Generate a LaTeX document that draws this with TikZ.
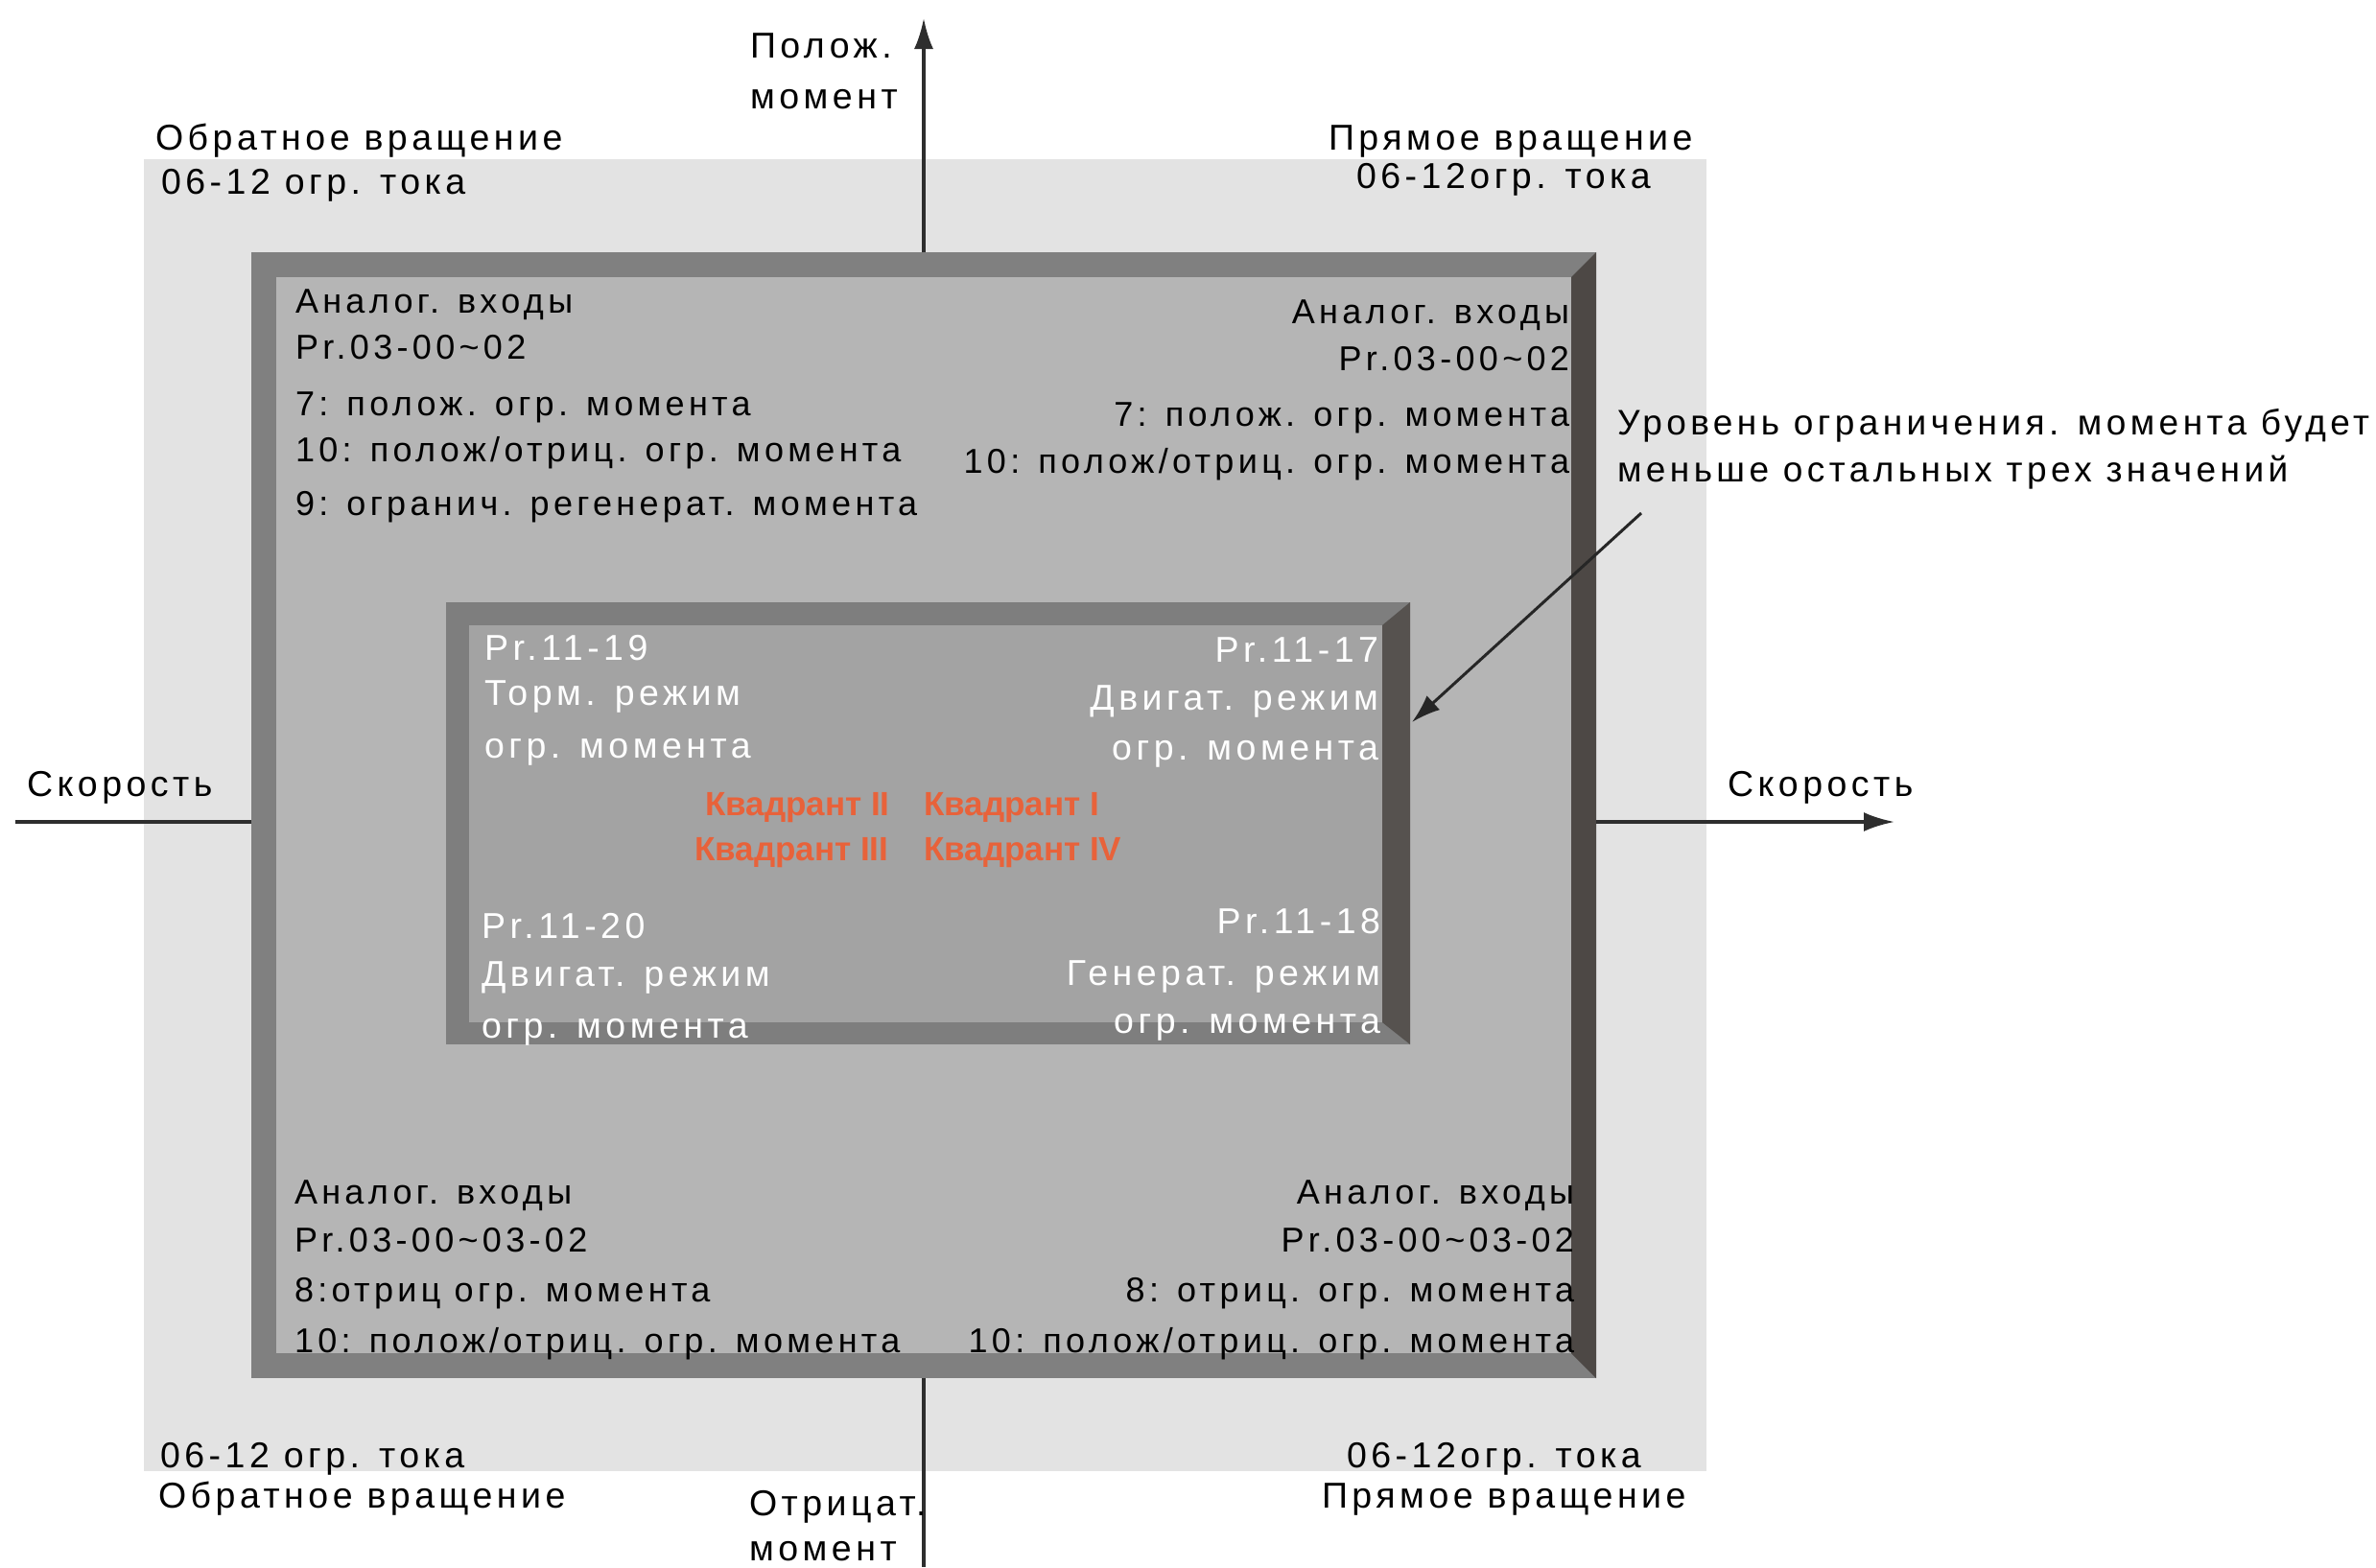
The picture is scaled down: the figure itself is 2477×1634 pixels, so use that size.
\documentclass[tikz,border=0pt]{standalone}
\usepackage{fontspec}
\setmainfont{Liberation Sans}[LetterSpace=12]
\newfontfamily\quadfont{Liberation Sans}[LetterSpace=0]
\usetikzlibrary{arrows.meta}
\definecolor{bglight}{HTML}{E3E3E3}
\definecolor{bandgray}{HTML}{808080}
\definecolor{banddark}{HTML}{4D4845}
\definecolor{framefill}{HTML}{B5B5B5}
\definecolor{boxband}{HTML}{7E7E7E}
\definecolor{boxdark}{HTML}{56524F}
\definecolor{boxfill}{HTML}{A3A3A3}
\definecolor{axisgray}{HTML}{2E2E2E}
\definecolor{quadred}{HTML}{E8623A}
\newcommand{\mainsize}{\fontsize{36}{43}\selectfont}
\newcommand{\bigsize}{\fontsize{37.5}{44}\selectfont}
\newcommand{\notesize}{\fontsize{37}{44}\selectfont}
\tikzset{
  lbl/.style={anchor=base west, inner sep=0pt, outer sep=0pt, font=\mainsize, text=black},
  lblr/.style={anchor=base east, inner sep=0pt, outer sep=0pt, font=\mainsize, text=black},
  olbl/.style={lbl, font=\bigsize},
  wlbl/.style={lbl, font=\bigsize, text=white},
  wlblr/.style={lblr, font=\bigsize, text=white},
  nlbl/.style={lbl, font=\notesize},
  quad/.style={anchor=base west, inner sep=0pt, font=\quadfont\bfseries\fontsize{35}{40}\selectfont, text=quadred},
  axisline/.style={draw=axisgray, line width=3.5pt},
  axisarrow/.style={axisline, -{Latex[length=32pt,width=20pt]}},
  notearrow/.style={draw=black!85, line width=3pt, -{Latex[length=30pt,width=20pt]}}
}
\begin{document}
\begin{tikzpicture}[x=1pt,y=-1pt]
\useasboundingbox (0,0) rectangle (2477,1634);
% light background
\fill[bglight] (150,166) rectangle (1779,1534);
% outer frame
\fill[bandgray] (262,263) rectangle (1664,1437);
\fill[framefill] (288,289) rectangle (1638,1411);
\fill[banddark] (1638,289) -- (1664,263) -- (1664,1437) -- (1638,1411) -- cycle;
% inner box
\fill[boxband] (465,628) rectangle (1470,1089);
\fill[boxfill] (489,652) rectangle (1441,1066);
\fill[boxdark] (1441,652) -- (1470,628) -- (1470,1089) -- (1441,1066) -- cycle;
% axis coordinates
\coordinate (frameN) at (963,263);
\coordinate (frameS) at (963,1437);
\coordinate (frameW) at (262,857);
\coordinate (frameE) at (1664,857);
\coordinate (axisN) at (963,19);
\coordinate (axisS) at (963,1634);
\coordinate (axisW) at (16,857);
\coordinate (axisE) at (1975,857);
\draw[axisarrow] (frameN) -- (axisN);
\draw[axisline] (frameS) -- (axisS);
\draw[axisline] (axisW) -- (frameW);
\draw[axisarrow] (frameE) -- (axisE);
% axis labels
\node[olbl] (pl1) at (782,60) {Полож.};
\node[olbl] (pl2) at (782,113) {момент};
\node[olbl] (ng1) at (781,1580) {Отрицат.};
\node[olbl] (ng2) at (781,1627) {момент};
\node[olbl] (spdL) at (28,830) {Скорость};
\node[olbl] (spdR) at (1801,830) {Скорость};
% corner labels outside
\node[olbl] (tl1) at (162,156) {Обратное вращение};
\node[olbl] (tl2) at (168,202) {06-12 огр. тока};
\node[olbl] (tr1) at (1385,156) {Прямое вращение};
\node[olbl] (tr2) at (1414,196) {06-12огр. тока};
\node[olbl] (bl1) at (167,1530) {06-12 огр. тока};
\node[olbl] (bl2) at (165,1572) {Обратное вращение};
\node[olbl] (br1) at (1404,1530) {06-12огр. тока};
\node[olbl] (br2) at (1378,1572) {Прямое вращение};
% frame top-left
\node[lbl] (ftl1) at (308,326) {Аналог. входы};
\node[lbl] (ftl2) at (308,374) {Pr.03-00\textasciitilde 02};
\node[lbl] (ftl3) at (308,433) {7: полож. огр. момента};
\node[lbl] (ftl4) at (308,481) {10: полож/отриц. огр. момента};
\node[lbl] (ftl5) at (308,537) {9: огранич. регенерат. момента};
% frame top-right
\node[lblr] (ftr1) at (1636,337) {Аналог. входы};
\node[lblr] (ftr2) at (1636,386) {Pr.03-00\textasciitilde 02};
\node[lblr] (ftr3) at (1636,444) {7: полож. огр. момента};
\node[lblr] (ftr4) at (1636,493) {10: полож/отриц. огр. момента};
% frame bottom-left
\node[lbl] (fbl1) at (307,1255) {Аналог. входы};
\node[lbl] (fbl2) at (307,1305) {Pr.03-00\textasciitilde 03-02};
\node[lbl] (fbl3) at (307,1357) {8:отриц огр. момента};
\node[lbl] (fbl4) at (307,1410) {10: полож/отриц. огр. момента};
% frame bottom-right
\node[lblr] (fbr1) at (1641,1255) {Аналог. входы};
\node[lblr] (fbr2) at (1641,1305) {Pr.03-00\textasciitilde 03-02};
\node[lblr] (fbr3) at (1641,1357) {8: отриц. огр. момента};
\node[lblr] (fbr4) at (1641,1410) {10: полож/отриц. огр. момента};
% inner box texts
\node[wlbl] (itl1) at (505,688) {Pr.11-19};
\node[wlbl] (itl2) at (505,735) {Торм. режим};
\node[wlbl] (itl3) at (505,790) {огр. момента};
\node[wlblr] (itr1) at (1437,690) {Pr.11-17};
\node[wlblr] (itr2) at (1437,740) {Двигат. режим};
\node[wlblr] (itr3) at (1437,792) {огр. момента};
\node[wlbl] (ibl1) at (502,978) {Pr.11-20};
\node[wlbl] (ibl2) at (502,1028) {Двигат. режим};
\node[wlbl] (ibl3) at (502,1082) {огр. момента};
\node[wlblr] (ibr1) at (1439,973) {Pr.11-18};
\node[wlblr] (ibr2) at (1439,1027) {Генерат. режим};
\node[wlblr] (ibr3) at (1439,1077) {огр. момента};
% quadrants
\node[quad] (q2) at (735,850) {Квадрант II};
\node[quad] (q1) at (963,850) {Квадрант I};
\node[quad] (q3) at (724,897) {Квадрант III};
\node[quad] (q4) at (963,897) {Квадрант IV};
% annotation
\node[nlbl] (note1) at (1686,453) {Уровень ограничения. момента будет};
\node[nlbl] (note2) at (1686,502) {меньше остальных трех значений};
\coordinate (noteS) at (1711,535);
\coordinate (noteT) at (1472,753);
\draw[notearrow] (noteS) -- (noteT);
\end{tikzpicture}
\end{document}
